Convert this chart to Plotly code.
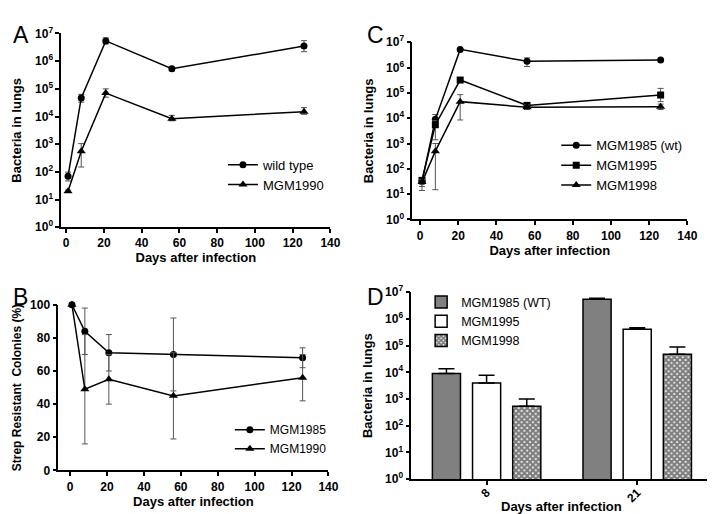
import plotly.graph_objects as go

# ---------------- data ----------------
days = [1, 8, 21, 56, 126]

# Panel A
A_wt = [70, 4.7e4, 5.4e6, 5.3e5, 3.5e6]
A_wt_hi = [98, 6.3e4, 7.0e6, 6.0e5, 5.5e6]
A_wt_lo = [47, 3.3e4, 4.2e6, 4.5e5, 2.2e6]
A_1990 = [20, 560, 7.0e4, 8.3e3, 1.5e4]
A_1990_hi = [22, 1050, 1.0e5, 1.1e4, 2.1e4]
A_1990_lo = [18, 150, 5.0e4, 7.0e3, 1.2e4]

# Panel B
B_1985 = [100, 84, 71, 70, 68]
B_1985_err = [0, 14, 11, 22, 6]
B_1990 = [100, 49, 55, 45, 56]
B_1990_err = [0, 33, 15, 26, 14]

# Panel C
C_wt = [32, 9.0e3, 5.2e6, 1.75e6, 2.0e6]
C_wt_hi = [40, 1.4e4, 5.6e6, 2.4e6, 2.1e6]
C_wt_lo = [25, 6.0e3, 4.8e6, 1.1e6, 1.9e6]
C_1995 = [35, 5.5e3, 3.2e5, 3.2e4, 8.2e4]
C_1995_hi = [45, 8.0e3, 3.6e5, 4.0e4, 1.5e5]
C_1995_lo = [20, 1.4e3, 2.8e5, 2.4e4, 4.5e4]
C_1998 = [30, 500, 4.5e4, 2.7e4, 2.8e4]
C_1998_hi = [38, 1.0e3, 8.5e4, 3.3e4, 3.6e4]
C_1998_lo = [14, 15, 8.5e3, 2.2e4, 2.2e4]

# Panel D
D_cats = ["8", "21"]
D_wt = [9.0e3, 5.4e6]
D_wt_hi = [1.35e4, 5.9e6]
D_1995 = [4.0e3, 4.1e5]
D_1995_hi = [7.8e3, 4.7e5]
D_1998 = [540, 4.7e4]
D_1998_hi = [1.0e3, 8.8e4]

log_ticks = [10 ** i for i in range(8)]
log_text = ["<b>10<sup>%d</sup></b>" % i for i in range(8)]
lin_ticks = [0, 20, 40, 60, 80, 100, 120, 140]
lin_text = ["<b>%d</b>" % v for v in lin_ticks]
pct_ticks = [0, 20, 40, 60, 80, 100]
pct_text = ["<b>%d</b>" % v for v in pct_ticks]
cat_text = ["<b>%s</b>" % c for c in D_cats]

FONT = "Liberation Sans, Arial, sans-serif"


def up(v, hi):
    return [h - x for x, h in zip(v, hi)]


def dn(v, lo):
    return [x - l for x, l in zip(v, lo)]


def err(plus, minus=None):
    d = dict(type="data", array=plus, color="#555555", thickness=1, width=3)
    if minus is None:
        d["symmetric"] = True
    else:
        d["symmetric"] = False
        d["arrayminus"] = minus
    return d


fig = go.Figure()


def line_trace(x, y, name, symbol, size, xa, ya, leg, e):
    return go.Scatter(
        x=x, y=y, name=name, mode="lines+markers",
        line=dict(color="black", width=1.5),
        marker=dict(symbol=symbol, size=size, color="black"),
        error_y=e, xaxis=xa, yaxis=ya, legend=leg, cliponaxis=False,
    )


# A
fig.add_trace(line_trace(days, A_wt, "wild type", "circle", 7, "x", "y", "legend",
                         err(up(A_wt, A_wt_hi), dn(A_wt, A_wt_lo))))
fig.add_trace(line_trace(days, A_1990, "MGM1990", "triangle-up", 8, "x", "y", "legend",
                         err(up(A_1990, A_1990_hi), dn(A_1990, A_1990_lo))))
# B
fig.add_trace(line_trace(days, B_1985, "MGM1985", "circle", 7, "x2", "y2", "legend2",
                         err(B_1985_err)))
fig.add_trace(line_trace(days, B_1990, "MGM1990", "triangle-up", 8, "x2", "y2", "legend2",
                         err(B_1990_err)))
# C
fig.add_trace(line_trace(days, C_wt, "MGM1985 (wt)", "circle", 7, "x3", "y3", "legend3",
                         err(up(C_wt, C_wt_hi), dn(C_wt, C_wt_lo))))
fig.add_trace(line_trace(days, C_1995, "MGM1995", "square", 7, "x3", "y3", "legend3",
                         err(up(C_1995, C_1995_hi), dn(C_1995, C_1995_lo))))
fig.add_trace(line_trace(days, C_1998, "MGM1998", "triangle-up", 8, "x3", "y3", "legend3",
                         err(up(C_1998, C_1998_hi), dn(C_1998, C_1998_lo))))


# D
def bar_err(v, hi):
    return dict(type="data", symmetric=False, array=up(v, hi), arrayminus=[0] * len(v),
                color="black", thickness=1.5, width=8)


fig.add_trace(go.Bar(x=D_cats, y=D_wt, name="MGM1985 (WT)", xaxis="x4", yaxis="y4",
                     legend="legend4",
                     marker=dict(color="#808080", line=dict(color="black", width=1.5)),
                     error_y=bar_err(D_wt, D_wt_hi)))
fig.add_trace(go.Bar(x=D_cats, y=D_1995, name="MGM1995", xaxis="x4", yaxis="y4",
                     legend="legend4",
                     marker=dict(color="white", line=dict(color="black", width=1.5)),
                     error_y=bar_err(D_1995, D_1995_hi)))
fig.add_trace(go.Bar(x=D_cats, y=D_1998, name="MGM1998", xaxis="x4", yaxis="y4",
                     legend="legend4",
                     marker=dict(color="white", line=dict(color="black", width=1.5),
                                 pattern=dict(shape="x", fgcolor="black", bgcolor="white",
                                              size=4, solidity=0.8)),
                     error_y=bar_err(D_1998, D_1998_hi)))

W, H = 715, 514


def px_x(a, b):
    return [a / W, b / W]


def px_y(top, bottom):
    return [1 - bottom / H, 1 - top / H]


tickfont = dict(family=FONT, size=12, color="black")
titlefont = dict(family=FONT, size=13, color="black")

common_x = dict(showline=True, linecolor="black", linewidth=1.5, ticks="outside",
                ticklen=4, tickwidth=1.5, tickcolor="black", showgrid=False,
                zeroline=False, tickfont=tickfont)
common_y = dict(common_x)

days_title = dict(text="<b>Days after infection</b>", font=titlefont, standoff=4)
lungs_title = dict(text="<b>Bacteria in lungs</b>", font=titlefont, standoff=10)

fig.update_layout(
    width=W, height=H, margin=dict(l=0, r=0, t=0, b=0),
    paper_bgcolor="white", plot_bgcolor="white", font=dict(family=FONT, color="black"),
    barmode="group", bargap=0.2, bargroupgap=0.3,
    # A
    xaxis=dict(common_x, domain=px_x(54, 327), range=[-2.6, 140], anchor="y",
               tickvals=lin_ticks, ticktext=lin_text, title=days_title),
    yaxis=dict(common_y, domain=px_y(17, 217), type="log", range=[0, 7], anchor="x",
               tickvals=log_ticks, ticktext=log_text, title=lungs_title),
    # B
    xaxis2=dict(common_x, domain=px_x(51, 325), range=[-6.4, 140], anchor="y2",
                tickvals=lin_ticks, ticktext=lin_text, title=days_title),
    yaxis2=dict(common_y, domain=px_y(297, 468), range=[0, 100], anchor="x2",
                tickvals=pct_ticks, ticktext=pct_text,
                title=dict(text="<b>Strep Resistant  Colonies (%)</b>",
                           font=dict(family=FONT, size=12, color="black"), standoff=6)),
    # C
    xaxis3=dict(common_x, domain=px_x(410, 689), range=[-4.1, 140], anchor="y3",
                tickvals=lin_ticks, ticktext=lin_text, title=days_title),
    yaxis3=dict(common_y, domain=px_y(26, 209), type="log", range=[0, 7], anchor="x3",
                tickvals=log_ticks, ticktext=log_text, title=lungs_title),
    # D
    xaxis4=dict(common_x, domain=px_x(409, 713), range=[-0.5, 1.49], anchor="y4",
                type="category", tickangle=-45, tickvals=D_cats, ticktext=cat_text,
                ticklabelstandoff=-4,
                tickfont=dict(family=FONT, size=12, color="black")),
    yaxis4=dict(common_y, domain=px_y(284, 477), type="log", range=[0, 7], anchor="x4",
                tickvals=log_ticks, ticktext=log_text, title=lungs_title),
    legend=dict(x=218 / W, y=1 - 137 / H, xanchor="left", yanchor="top",
                bgcolor="rgba(0,0,0,0)", font=dict(family=FONT, size=13)),
    legend2=dict(x=225 / W, y=1 - 411 / H, xanchor="left", yanchor="top",
                 bgcolor="rgba(0,0,0,0)", font=dict(family=FONT, size=12),
                 tracegroupgap=0),
    legend3=dict(x=556 / W, y=1 - 117 / H, xanchor="left", yanchor="top",
                 bgcolor="rgba(0,0,0,0)", font=dict(family=FONT, size=13)),
    legend4=dict(x=419 / W, y=1 - 279 / H, xanchor="left", yanchor="top",
                 bgcolor="rgba(0,0,0,0)", font=dict(family=FONT, size=12.5)),
)

# x-axis title of panel D (placed just under the rotated tick labels)
fig.add_annotation(text="<b>Days after infection</b>", x=561 / W, y=1 - 505 / H,
                   xref="paper", yref="paper", xanchor="center", yanchor="middle",
                   showarrow=False, font=titlefont)

for letter, xp, yp in [("A", 3, 3), ("C", 362, 3), ("B", 3, 273), ("D", 362, 273)]:
    fig.add_annotation(text=letter, x=xp / W, y=1 - yp / H, xref="paper", yref="paper",
                       xanchor="left", yanchor="top", showarrow=False,
                       font=dict(family=FONT, size=23, color="black"))

fig.write_html("out.html")
